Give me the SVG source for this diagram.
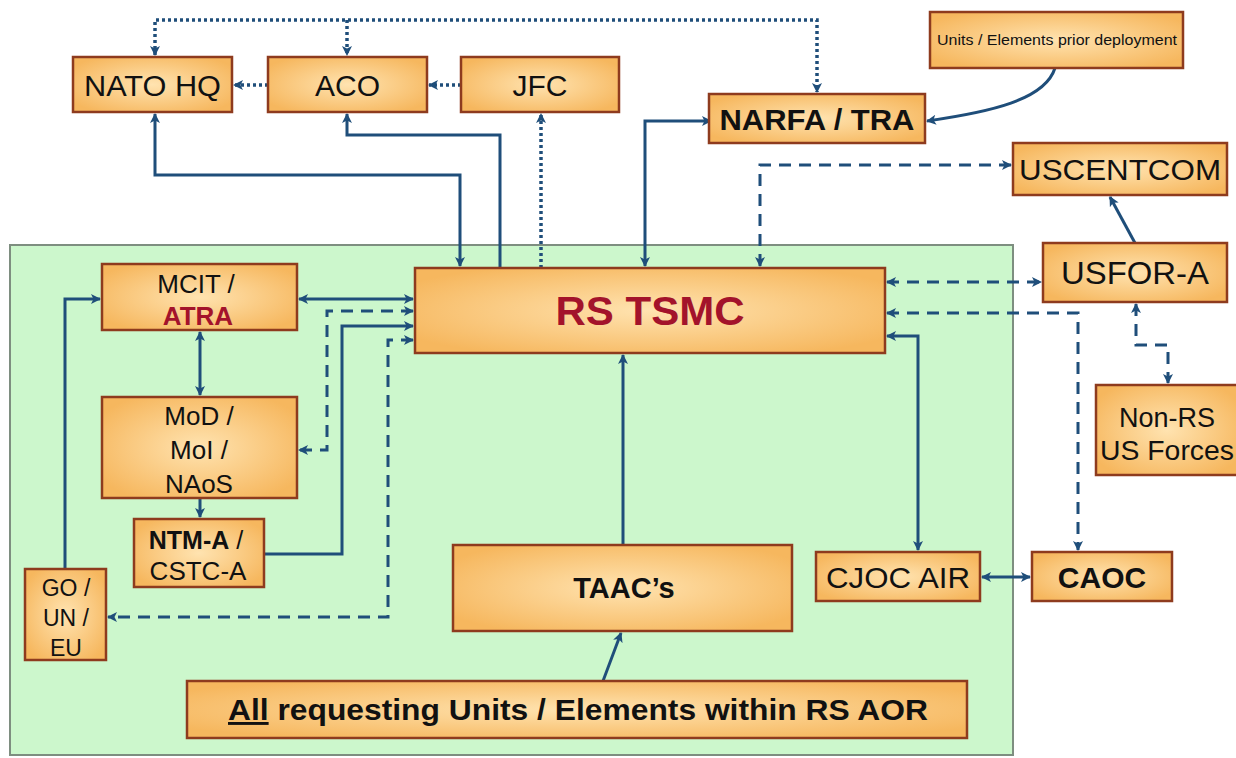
<svg xmlns="http://www.w3.org/2000/svg" width="1236" height="758" viewBox="0 0 1236 758">
<style>
.box{fill:url(#og);stroke:#8E3B1E;stroke-width:2.5}
.t{font-family:"Liberation Sans",Arial,sans-serif;fill:#111;text-anchor:middle}
.b{font-weight:bold}
.red{fill:#A3132B}
.c{fill:none;stroke:#1F4E7A;stroke-width:3}
.dot{stroke-dasharray:3 3;stroke-width:3.5}
.dash{stroke-dasharray:12 8}
</style>
<defs>
<radialGradient id="og" cx="50%" cy="50%" r="60%">
<stop offset="0" stop-color="#FFE3B0"/>
<stop offset="1" stop-color="#F6B75E"/>
</radialGradient>
<marker id="a" viewBox="0 0 10 10" refX="9" refY="5" markerWidth="11" markerHeight="10" markerUnits="userSpaceOnUse" orient="auto-start-reverse">
<path d="M0,0 L10,5 L0,10 L2.5,5 Z" fill="#1F4E7A"/>
</marker>
</defs>
<rect width="1236" height="758" fill="#fff"/>
<rect id="panel" x="10" y="245" width="1003" height="510" fill="#CCF7CC" stroke="#7E8E80" stroke-width="2"/>

<g id="connectors">
<path class="c dot" d="M155,55 V20 H817 V92" marker-start="url(#a)" marker-end="url(#a)"/>
<path class="c dot" d="M347,20 V55" marker-end="url(#a)"/>
<path class="c dot" d="M268,85 H234" marker-end="url(#a)"/>
<path class="c dot" d="M461,85 H429" marker-end="url(#a)"/>
<path class="c dot" d="M541,268 V114" marker-end="url(#a)"/>
<path class="c" d="M155,114 V175 H460 V266" marker-start="url(#a)" marker-end="url(#a)"/>
<path class="c" d="M500,268 V135 H347 V114" marker-end="url(#a)"/>
<path class="c" d="M711,121 H645 V266" marker-start="url(#a)" marker-end="url(#a)"/>
<path class="c" d="M1055,68 C1045,100 990,112 927,121" marker-end="url(#a)"/>
<path class="c dash" d="M760,266 V165 H1011" marker-start="url(#a)" marker-end="url(#a)"/>
<path class="c" d="M1135,243 L1110,197" marker-end="url(#a)"/>
<path class="c dash" d="M887,282 H1041" marker-start="url(#a)" marker-end="url(#a)"/>
<path class="c dash" d="M887,313 H1078 V550" marker-start="url(#a)" marker-end="url(#a)"/>
<path class="c dash" d="M1136,304 V345 H1168 V383" marker-start="url(#a)" marker-end="url(#a)"/>
<path class="c" d="M887,336 H918 V550" marker-start="url(#a)" marker-end="url(#a)"/>
<path class="c" d="M982,577 H1030" marker-start="url(#a)" marker-end="url(#a)"/>
<path class="c" d="M623,545 V355" marker-end="url(#a)"/>
<path class="c" d="M603,681 L621,633" marker-end="url(#a)"/>
<path class="c" d="M299,299 H413" marker-start="url(#a)" marker-end="url(#a)"/>
<path class="c dash" d="M413,311 H327 V450 H299" marker-start="url(#a)" marker-end="url(#a)"/>
<path class="c" d="M264,554 H342 V326 H413" marker-end="url(#a)"/>
<path class="c dash" d="M413,340 H388 V617 H108" marker-start="url(#a)" marker-end="url(#a)"/>
<path class="c" d="M65,569 V299 H100" marker-end="url(#a)"/>
<path class="c" d="M200,332 V395" marker-start="url(#a)" marker-end="url(#a)"/>
<path class="c" d="M200,498 V517" marker-end="url(#a)"/>
</g>

<g id="nato-hq"><rect class="box" x="73" y="57" width="159" height="55"/><text class="t" x="152.5" y="96" font-size="30" textLength="137" lengthAdjust="spacingAndGlyphs">NATO HQ</text></g>
<g id="aco"><rect class="box" x="268" y="57" width="159" height="55"/><text class="t" x="347.5" y="96" font-size="30">ACO</text></g>
<g id="jfc"><rect class="box" x="461" y="57" width="158" height="55"/><text class="t" x="540" y="96" font-size="30">JFC</text></g>
<g id="narfa"><rect class="box" x="709" y="94" width="216" height="49"/><text class="t b" x="817" y="130" font-size="30" textLength="195" lengthAdjust="spacingAndGlyphs">NARFA / TRA</text></g>
<g id="units-prior"><rect class="box" x="930" y="12" width="253" height="56"/><text class="t" x="1057" y="45" font-size="14" textLength="240" lengthAdjust="spacingAndGlyphs" fill="#333">Units / Elements prior deployment</text></g>
<g id="uscentcom"><rect class="box" x="1013" y="143" width="214" height="52"/><text class="t" x="1120" y="180" font-size="30" textLength="202" lengthAdjust="spacingAndGlyphs">USCENTCOM</text></g>
<g id="usfor-a"><rect class="box" x="1043" y="243" width="184" height="59"/><text class="t" x="1135" y="284" font-size="31" textLength="148" lengthAdjust="spacingAndGlyphs">USFOR-A</text></g>
<g id="non-rs"><rect class="box" x="1096" y="385" width="142" height="90"/><text class="t" x="1167" y="427" font-size="27">Non-RS</text><text class="t" x="1167" y="460" font-size="27" textLength="134" lengthAdjust="spacingAndGlyphs">US Forces</text></g>
<g id="caoc"><rect class="box" x="1032" y="552" width="140" height="49"/><text class="t b" x="1102" y="588" font-size="30">CAOC</text></g>
<g id="cjoc-air"><rect class="box" x="816" y="552" width="164" height="49"/><text class="t" x="898" y="588" font-size="30" textLength="144" lengthAdjust="spacingAndGlyphs">CJOC AIR</text></g>
<g id="rs-tsmc"><rect class="box" x="415" y="268" width="470" height="85"/><text class="t b red" x="650" y="325" font-size="41" textLength="189" lengthAdjust="spacingAndGlyphs">RS TSMC</text></g>
<g id="taacs"><rect class="box" x="453" y="545" width="339" height="86"/><text class="t b" x="624" y="598" font-size="29">TAAC’s</text></g>
<g id="all-requesting"><rect class="box" x="187" y="681" width="780" height="57"/><text class="t b" x="578" y="720" font-size="29" textLength="700" lengthAdjust="spacingAndGlyphs"><tspan text-decoration="underline">All</tspan> requesting Units / Elements within RS AOR</text></g>
<g id="mcit-atra"><rect class="box" x="102" y="264" width="195" height="66"/><text class="t" x="196" y="293" font-size="26">MCIT /</text><text class="t b red" x="198" y="325" font-size="26">ATRA</text></g>
<g id="mod-moi-naos"><rect class="box" x="102" y="397" width="195" height="101"/><text class="t" x="199" y="425" font-size="26">MoD /</text><text class="t" x="199" y="459" font-size="26">MoI /</text><text class="t" x="199" y="493" font-size="26">NAoS</text></g>
<g id="ntm-a"><rect class="box" x="134" y="519" width="130" height="68"/><text class="t" x="196" y="549" font-size="25"><tspan font-weight="bold">NTM-A</tspan> /</text><text class="t" x="198" y="580" font-size="26">CSTC-A</text></g>
<g id="go-un-eu"><rect class="box" x="25" y="569" width="81" height="91"/><text class="t" x="66" y="596" font-size="23">GO /</text><text class="t" x="66" y="626" font-size="23">UN /</text><text class="t" x="66" y="656" font-size="23">EU</text></g>
</svg>
